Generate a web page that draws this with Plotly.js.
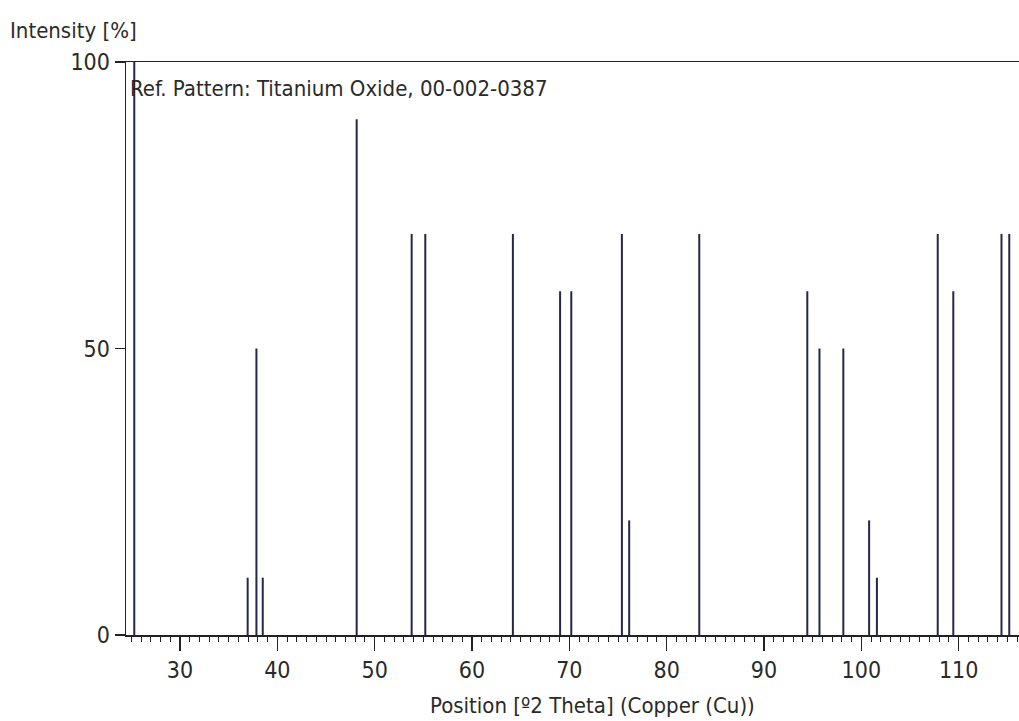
<!DOCTYPE html>
<html>
<head>
<meta charset="utf-8">
<script src="https://cdn.plot.ly/plotly-3.0.1.min.js"></script>
<style>
html,body{margin:0;padding:0;overflow:hidden;background:#fff;}
#chart{width:1019px;height:721px;}
</style>
</head>
<body>
<div id="chart"></div>
<script>
// Peak positions (°2Theta) and relative intensities (%)
const positions = [25.3, 36.95, 37.85, 38.5, 48.15, 53.8, 55.2, 64.2, 69.05, 70.2, 75.4, 76.15, 83.35, 94.45, 95.7, 98.15, 100.8, 101.6, 107.85, 109.45, 114.4, 115.2];
const intensities = [100, 10, 50, 10, 90, 70, 70, 70, 60, 60, 70, 20, 70, 60, 50, 50, 20, 10, 70, 60, 70, 70];
const xTickVals = [30, 40, 50, 60, 70, 80, 90, 100, 110];
const yTickVals = [0, 50, 100];
const titleText = "Ref. Pattern: Titanium Oxide, 00-002-0387";
const xTitle = "Position [º2 Theta] (Copper (Cu))";
const yTitle = "Intensity [%]";

const xs = [], ys = [];
positions.forEach((p, i) => { xs.push(p, p, null); ys.push(0, intensities[i], null); });

const fontFam = "'DejaVu Sans Condensed', 'DejaVu Sans', sans-serif";
const txtColor = '#2a2a2a';

const trace = {
  x: xs, y: ys, type: 'scatter', mode: 'lines',
  line: {color: '#25254f', width: 2},
  hoverinfo: 'skip', showlegend: false
};

const layout = {
  width: 1019, height: 721,
  margin: {l: 126, r: 0, t: 62, b: 86},
  paper_bgcolor: '#fff', plot_bgcolor: '#fff',
  font: {family: fontFam, color: txtColor, size: 22},
  xaxis: {
    range: [24.45, 116.2],
    tickvals: xTickVals,
    ticks: 'outside', ticklen: 14, tickwidth: 1.5, tickcolor: '#222',
    minor: {dtick: 1, tick0: 0, ticks: 'outside', ticklen: 5, tickcolor: '#222', tickwidth: 1},
    showline: true, linecolor: '#222', linewidth: 1.5, mirror: true,
    showgrid: false, zeroline: false,
    tickfont: {family: fontFam, size: 23, color: txtColor}
  },
  yaxis: {
    range: [0, 100],
    tickvals: yTickVals,
    ticks: 'outside', ticklen: 10, tickwidth: 1.5, tickcolor: '#222',
    showline: true, linecolor: '#222', linewidth: 1.5,
    showgrid: false, zeroline: false,
    tickfont: {family: fontFam, size: 23, color: txtColor}
  },
  annotations: [
    {text: yTitle, xref: 'paper', yref: 'paper', x: -126/893, y: 1, xshift: 8, yshift: 32,
     xanchor: 'left', yanchor: 'middle', showarrow: false,
     font: {family: fontFam, size: 22, color: txtColor}},
    {text: titleText, xref: 'paper', yref: 'paper', x: 0, y: 1, xshift: 2, yshift: -26,
     xanchor: 'left', yanchor: 'middle', showarrow: false,
     font: {family: fontFam, size: 22, color: txtColor}},
    {text: xTitle, xref: 'paper', yref: 'paper', x: (592-126)/893, y: 0, yshift: -70,
     xanchor: 'center', yanchor: 'middle', showarrow: false,
     font: {family: fontFam, size: 22, color: txtColor}}
  ]
};

Plotly.newPlot('chart', [trace], layout, {displayModeBar: false, staticPlot: true});
</script>
</body>
</html>
